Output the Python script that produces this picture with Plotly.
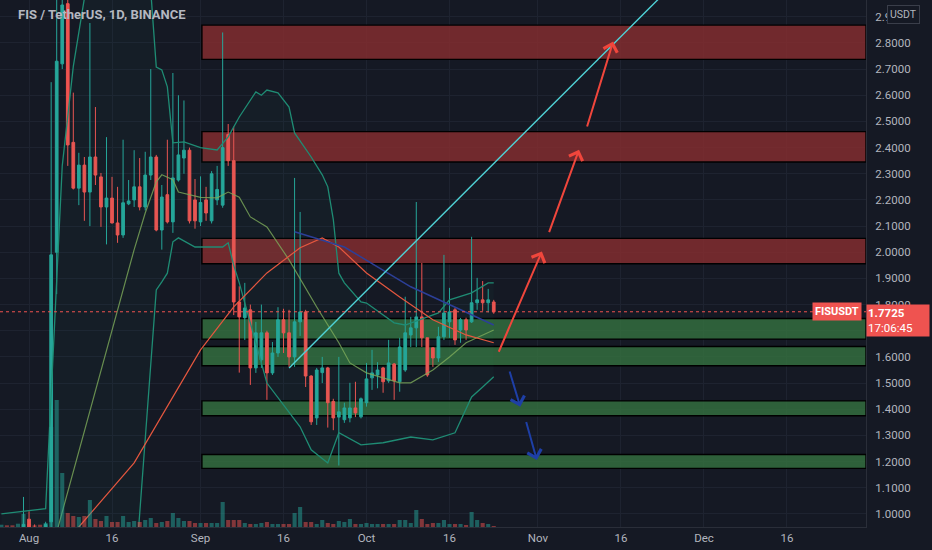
import pandas as pd
import plotly.graph_objects as go

# ---- data (FIS/USDT daily, Binance) ----
dates = pd.date_range("2021-07-27", "2021-10-24", freq="D")

open_ = [0.90, 0.91, 0.89, 0.88, 0.92, 0.98, 0.94, 0.93, 0.92, 0.97,
         2.00, 2.72, 2.95, 2.42, 2.245, 2.333, 2.23, 2.364, 2.288, 2.173,
         2.207, 2.112, 2.066, 2.185, 2.20, 2.25, 2.173, 2.295, 2.364, 2.085,
         2.22, 2.116, 2.276, 2.36, 2.39, 2.20, 2.116, 2.20, 2.12, 2.20,
         2.18, 2.45, 2.35, 1.81, 1.75, 1.78, 1.558, 1.589, 1.692, 1.539,
         1.615, 1.742, 1.692, 1.60, 1.734, 1.772, 1.527, 1.367, 1.54, 1.558,
         1.43, 1.37, 1.36, 1.367, 1.405, 1.371, 1.425, 1.52, 1.531, 1.558,
         1.509, 1.573, 1.505, 1.55, 1.684, 1.711, 1.753, 1.673, 1.635, 1.596,
         1.677, 1.734, 1.78, 1.703, 1.742, 1.734, 1.807, 1.818, 1.807, 1.81]
high = [0.93, 0.93, 0.91, 0.94, 1.065, 1.01, 0.96, 0.95, 0.97, 2.65,
        3.30, 3.60, 3.40, 2.61, 2.38, 2.364, 2.876, 2.555, 2.303, 2.44,
        2.288, 2.25, 2.43, 2.276, 2.39, 2.36, 2.384, 2.70, 2.372, 2.257,
        2.43, 2.685, 2.60, 2.58, 2.40, 2.28, 2.29, 2.25, 2.31, 2.33,
        2.84, 2.49, 2.48, 1.87, 1.883, 1.80, 1.734, 1.80, 1.70, 1.657,
        1.79, 1.784, 1.78, 2.284, 2.154, 1.78, 1.53, 1.558, 1.60, 1.562,
        1.44, 1.60, 1.425, 1.501, 1.505, 1.445, 1.577, 1.627, 1.58, 1.562,
        1.665, 1.577, 1.673, 1.83, 1.753, 2.192, 1.959, 1.673, 1.635, 1.715,
        1.99, 1.864, 1.788, 1.749, 1.75, 2.059, 1.902, 1.89, 1.86, 1.818]
low = [0.88, 0.87, 0.86, 0.87, 0.91, 0.92, 0.91, 0.90, 0.91, 0.95,
       1.84, 2.70, 2.33, 2.24, 2.18, 2.12, 2.10, 2.257, 2.097, 2.03,
       2.11, 2.036, 2.055, 2.18, 2.173, 2.16, 2.16, 2.276, 2.08, 2.01,
       2.11, 2.074, 2.27, 2.30, 2.11, 2.09, 2.10, 2.12, 2.11, 2.18,
       2.17, 2.33, 1.76, 1.54, 1.665, 1.493, 1.539, 1.558, 1.436, 1.531,
       1.60, 1.615, 1.562, 1.562, 1.68, 1.485, 1.34, 1.34, 1.50, 1.33,
       1.32, 1.185, 1.348, 1.35, 1.37, 1.365, 1.41, 1.474, 1.48, 1.463,
       1.501, 1.436, 1.467, 1.543, 1.638, 1.638, 1.638, 1.524, 1.562, 1.581,
       1.665, 1.673, 1.646, 1.654, 1.665, 1.73, 1.78, 1.776, 1.77, 1.765]
close = [0.91, 0.89, 0.88, 0.92, 0.96, 0.94, 0.93, 0.92, 0.96, 1.99,
         2.73, 2.945, 2.41, 2.245, 2.333, 2.23, 2.364, 2.295, 2.173, 2.207,
         2.112, 2.066, 2.189, 2.196, 2.25, 2.173, 2.295, 2.364, 2.085, 2.211,
         2.116, 2.284, 2.372, 2.39, 2.12, 2.12, 2.19, 2.15, 2.30, 2.24,
         2.40, 2.35, 1.81, 1.753, 1.787, 1.558, 1.692, 1.692, 1.539, 1.615,
         1.742, 1.692, 1.60, 1.734, 1.772, 1.527, 1.352, 1.55, 1.558, 1.425,
         1.367, 1.39, 1.405, 1.405, 1.386, 1.44, 1.516, 1.539, 1.55, 1.505,
         1.577, 1.509, 1.638, 1.692, 1.711, 1.753, 1.673, 1.531, 1.596, 1.677,
         1.768, 1.772, 1.665, 1.742, 1.703, 1.807, 1.818, 1.807, 1.818, 1.7725]
volume = [2.3, 1.7, 1.7, 3.3, 13, 3, 1.7, 2.3, 4, 100,
          127, 54, 14, 11, 10, 11, 27, 8, 6, 11,
          5, 5, 11, 5, 6, 5, 7, 9, 4, 5,
          6, 14, 9, 6, 6, 4, 4, 4, 4, 4,
          25, 7, 7, 7, 4, 3, 3, 4, 5, 3,
          3, 3, 3, 14, 20, 5, 5, 3, 7, 4,
          3, 6, 5, 8, 3, 3, 4, 3, 3, 3,
          3, 3, 7, 7, 4, 17, 8, 3, 4, 4,
          7, 3, 3, 3, 2, 15, 7, 4, 3, 1]

# Bollinger bands (read as points)
bb_up_d = ["2021-07-27", "2021-08-04", "2021-08-07", "2021-08-09", "2021-08-11", "2021-08-15",
           "2021-08-19", "2021-08-23", "2021-08-24", "2021-08-25", "2021-08-26", "2021-08-27",
           "2021-08-29", "2021-09-01", "2021-09-04", "2021-09-05", "2021-09-06", "2021-09-08",
           "2021-09-11", "2021-09-12", "2021-09-13", "2021-09-15", "2021-09-17", "2021-09-18",
           "2021-09-21", "2021-09-23", "2021-09-24", "2021-09-25", "2021-09-26", "2021-09-27",
           "2021-09-30", "2021-10-01", "2021-10-06", "2021-10-08", "2021-10-14", "2021-10-16",
           "2021-10-20", "2021-10-23", "2021-10-24"]
bb_up_v = [1.00, 1.02, 2.33, 2.71, 2.97, 3.70, 3.60, 3.00, 2.708, 2.697, 2.632, 2.418,
           2.422, 2.40, 2.391, 2.418, 2.441, 2.517, 2.613, 2.60, 2.62, 2.609, 2.555, 2.456,
           2.364, 2.296, 2.25, 2.125, 1.92, 1.883, 1.81, 1.806, 1.73, 1.722, 1.768, 1.818,
           1.845, 1.883, 1.883]
bb_lo_d = ["2021-07-27", "2021-08-04", "2021-08-08", "2021-08-19", "2021-08-21", "2021-08-24",
           "2021-08-25", "2021-08-26", "2021-08-27", "2021-08-28", "2021-08-31", "2021-09-05",
           "2021-09-06", "2021-09-07", "2021-09-08", "2021-09-13", "2021-09-19", "2021-09-21",
           "2021-09-24", "2021-09-26", "2021-09-30", "2021-10-04", "2021-10-09", "2021-10-13",
           "2021-10-17", "2021-10-20", "2021-10-22", "2021-10-24"]
bb_lo_v = [0.85, 0.82, 0.20, 0.45, 1.00, 1.856, 1.887, 1.92, 2.04, 2.055, 2.02, 2.02,
           2.036, 1.95, 1.883, 1.50, 1.333, 1.245, 1.195, 1.31, 1.264, 1.272, 1.294, 1.283,
           1.31, 1.447, 1.485, 1.524]
bb_mid_d = ["2021-07-27", "2021-08-04", "2021-08-06", "2021-08-20", "2021-08-22", "2021-08-24",
            "2021-08-25", "2021-08-27", "2021-08-28", "2021-09-01", "2021-09-04", "2021-09-06",
            "2021-09-08", "2021-09-10", "2021-09-13", "2021-09-17", "2021-09-22", "2021-09-26",
            "2021-09-28", "2021-10-01", "2021-10-07", "2021-10-09", "2021-10-13", "2021-10-16",
            "2021-10-19", "2021-10-24"]
bb_mid_v = [0.90, 0.91, 0.93, 2.01, 2.15, 2.269, 2.296, 2.277, 2.23, 2.21, 2.208, 2.23,
            2.21, 2.135, 2.097, 1.971, 1.791, 1.654, 1.577, 1.539, 1.501, 1.501, 1.55, 1.60,
            1.654, 1.703]

ma_d = ["2021-08-05", "2021-08-10", "2021-08-20", "2021-08-26", "2021-09-01", "2021-09-07",
        "2021-09-13", "2021-09-19", "2021-09-23", "2021-09-26", "2021-10-01", "2021-10-07",
        "2021-10-13", "2021-10-19", "2021-10-24"]
ma_v = [0.83, 0.95, 1.195, 1.409, 1.627, 1.791, 1.921, 2.017, 2.055, 2.02, 1.921, 1.829,
        1.742, 1.684, 1.654]

blue_d = ["2021-09-18", "2021-09-27", "2021-10-09", "2021-10-24"]
blue_v = [2.078, 2.02, 1.868, 1.722]

trend_d = ["2021-09-17", "2021-11-30"]
trend_v = [1.558, 3.12]

# zones: (bottom, top)
red_zones = [(2.737, 2.868), (2.345, 2.461), (1.956, 2.053)]
green_zones = [(1.668, 1.747), (1.566, 1.640), (1.375, 1.432), (1.174, 1.227)]
zone_start = "2021-09-01 06:00"

# arrows: (start date, start price, tip date, tip price)
up_arrows = [("2021-10-24 19:00", 1.614, "2021-11-01 17:00", 2.003),
             ("2021-11-02 22:00", 2.071, "2021-11-08 10:00", 2.392),
             ("2021-11-09 19:00", 2.475, "2021-11-14 14:00", 2.805)]
down_arrows = [("2021-10-26 19:00", 1.55, "2021-10-28 19:00", 1.41),
               ("2021-10-29 19:00", 1.357, "2021-10-31 19:00", 1.206)]

last_price = 1.7725
price_ticks = [1.0, 1.1, 1.2, 1.3, 1.4, 1.5, 1.6, 1.7, 1.8, 1.9,
               2.0, 2.1, 2.2, 2.3, 2.4, 2.5, 2.6, 2.7, 2.8, 2.9]
date_ticks = ["2021-08-01", "2021-08-16", "2021-09-01", "2021-09-16", "2021-10-01",
              "2021-10-16", "2021-11-01", "2021-11-16", "2021-12-01", "2021-12-16"]
date_labels = ["Aug", "16", "Sep", "16", "Oct", "16", "Nov", "16", "Dec", "16"]

X_RANGE = ["2021-07-26 18:00", "2021-12-30 07:00"]
Y_RANGE = [0.950, 2.964]

BG, GRID, AXL, TXT = "#151924", "#1e2330", "#2a2e39", "#b2b5be"
UP, DOWN = "#26a69a", "#ef5350"
FONT = "Roboto"

fig = go.Figure()

# Bollinger band fill + lines
fig.add_trace(go.Scatter(x=bb_up_d, y=bb_up_v, mode="lines",
                         line=dict(color="#1f8c74", width=1.3), hoverinfo="skip"))
fig.add_trace(go.Scatter(x=bb_lo_d, y=bb_lo_v, mode="lines", fill="tonexty",
                         fillcolor="rgba(38,166,154,0.035)",
                         line=dict(color="#1f8c74", width=1.3), hoverinfo="skip"))
fig.add_trace(go.Scatter(x=bb_mid_d, y=bb_mid_v, mode="lines",
                         line=dict(color="rgba(125,170,90,0.8)", width=1.2), hoverinfo="skip"))
fig.add_trace(go.Scatter(x=ma_d, y=ma_v, mode="lines",
                         line=dict(color="#e5573f", width=1.2), hoverinfo="skip"))
fig.add_trace(go.Scatter(x=blue_d, y=blue_v, mode="lines",
                         line=dict(color="#2c3f98", width=1.5), hoverinfo="skip"))
fig.add_trace(go.Scatter(x=trend_d, y=trend_v, mode="lines",
                         line=dict(color="#4fd2d6", width=1.4), hoverinfo="skip"))

fig.add_trace(go.Candlestick(
    x=dates, open=open_, high=high, low=low, close=close, whiskerwidth=0,
    increasing=dict(line=dict(color=UP, width=1), fillcolor=UP),
    decreasing=dict(line=dict(color=DOWN, width=1), fillcolor=DOWN),
    hoverinfo="skip"))

vol_colors = ["rgba(38,166,154,0.5)" if c >= o else "rgba(239,83,80,0.5)"
              for o, c in zip(open_, close)]
fig.add_trace(go.Bar(x=dates, y=volume, yaxis="y2", marker=dict(color=vol_colors, line_width=0),
                     width=0.74 * 86400000, hoverinfo="skip"))

for y0, y1 in red_zones:
    fig.add_shape(type="rect", xref="x", yref="y", x0=zone_start, x1=X_RANGE[1], y0=y0, y1=y1,
                  fillcolor="rgba(140,46,48,0.78)", line=dict(color="#000000", width=1.4),
                  layer="between")
for y0, y1 in green_zones:
    fig.add_shape(type="rect", xref="x", yref="y", x0=zone_start, x1=X_RANGE[1], y0=y0, y1=y1,
                  fillcolor="rgba(54,116,64,0.78)", line=dict(color="#000000", width=1.4),
                  layer="between")

fig.add_shape(type="line", xref="x", yref="y", x0=X_RANGE[0], x1=X_RANGE[1],
              y0=last_price, y1=last_price, line=dict(color=DOWN, width=1, dash="dot"))

for xs, ys, xe, ye in up_arrows:
    fig.add_annotation(x=xe, y=ye, ax=xs, ay=ys, xref="x", yref="y", axref="x", ayref="y",
                       text="", showarrow=True, arrowhead=4, arrowsize=1.4, arrowwidth=2,
                       arrowcolor="#f0463c")
for xs, ys, xe, ye in down_arrows:
    fig.add_annotation(x=xe, y=ye, ax=xs, ay=ys, xref="x", yref="y", axref="x", ayref="y",
                       text="", showarrow=True, arrowhead=4, arrowsize=1.4, arrowwidth=2,
                       arrowcolor="#1e3fa6")

fig.add_annotation(x=0, xref="paper", y=1, yref="paper", xanchor="left", yanchor="top",
                   xshift=16, yshift=-5, showarrow=False,
                   text="<b>FIS / TetherUS, 1D, BINANCE</b>",
                   font=dict(family=FONT, size=13, color="#b4b7c0"))
fig.add_annotation(x=1, xref="paper", y=1, yref="paper", xanchor="center", yanchor="top",
                   xshift=37, yshift=-5, showarrow=False, text="USDT",
                   font=dict(family=FONT, size=10.5, color=TXT), bgcolor=BG,
                   bordercolor="#3a3e4a", borderwidth=1, borderpad=2)
fig.add_annotation(x=1, xref="paper", y=last_price, yref="y", xanchor="right", yanchor="middle",
                   xshift=-4, showarrow=False, text="<b>FISUSDT</b>",
                   font=dict(family=FONT, size=11, color="#ffffff"), bgcolor=DOWN, borderpad=2)
fig.add_annotation(x=1, xref="paper", y=last_price, yref="y", xanchor="left", yanchor="top",
                   yshift=8, showarrow=False, align="left",
                   text="<b>1.7725</b><br>17:06:45", width=60,
                   font=dict(family=FONT, size=11.5, color="#ffffff"), bgcolor=DOWN, borderpad=1)

fig.update_layout(
    width=932, height=550, paper_bgcolor=BG, plot_bgcolor=BG,
    margin=dict(l=0, r=66, t=0, b=23, autoexpand=False), showlegend=False,
    font=dict(family=FONT, size=11.5, color=TXT),
    xaxis=dict(type="date", range=X_RANGE, tickvals=date_ticks, ticktext=date_labels,
               showgrid=True, gridcolor=GRID, zeroline=False, showline=True, linecolor=AXL,
               ticks="", automargin=False, rangeslider=dict(visible=False),
               tickfont=dict(color=TXT, size=11.5)),
    yaxis=dict(range=Y_RANGE, side="right", tickvals=price_ticks, tickformat=".4f",
               showgrid=True, gridcolor=GRID, zeroline=False, showline=True, linecolor=AXL,
               ticks="", automargin=False, ticklabelstandoff=6,
               tickfont=dict(color=TXT, size=11.5)),
    yaxis2=dict(range=[0, 527], overlaying="y", visible=False),
)

# the page's default 8px body margin would shift the figure; drop it
fig.write_html("out.html", config={"displayModeBar": False},
               post_script="document.body.style.margin='0';"
                           "document.body.style.background='#151924';")
